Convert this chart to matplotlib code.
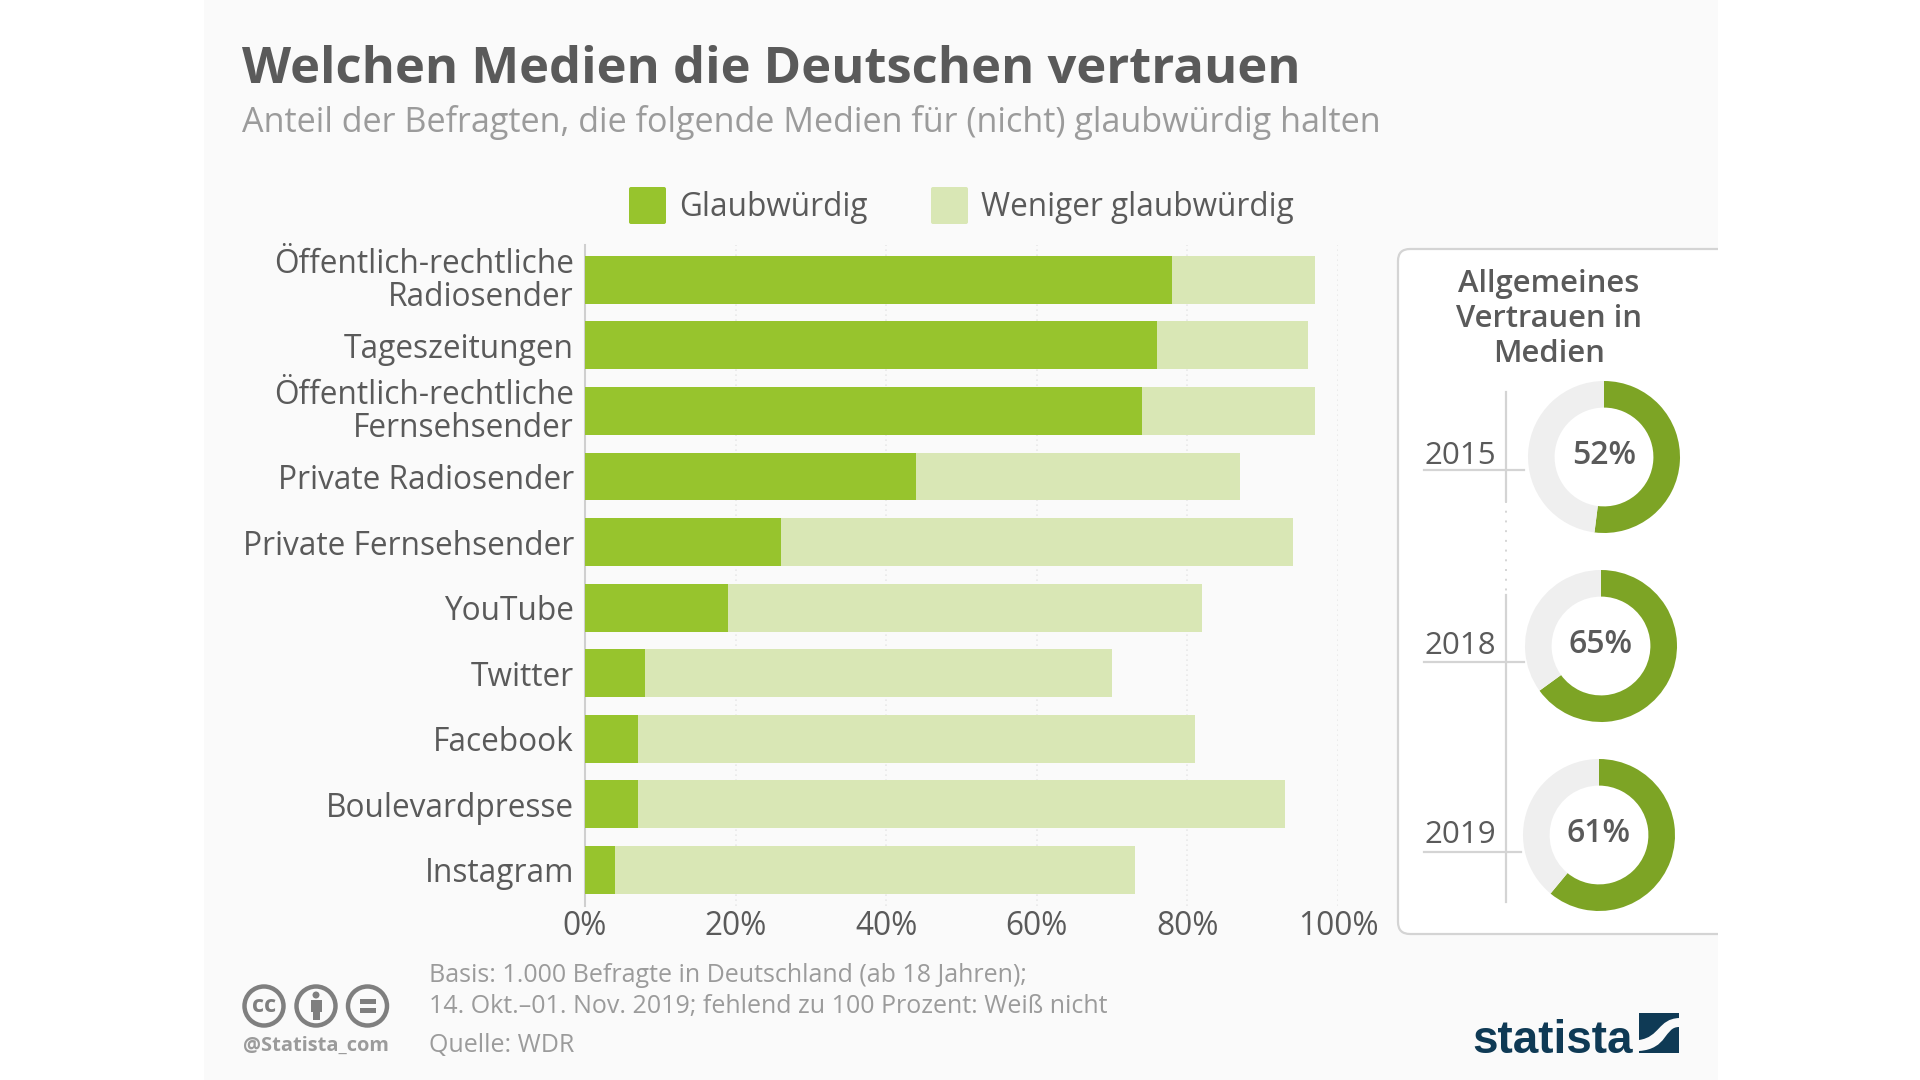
import numpy as np
import matplotlib
matplotlib.use('Agg')
import matplotlib.pyplot as plt
from matplotlib.patches import Rectangle, Circle, FancyBboxPatch, PathPatch
from matplotlib.path import Path
from matplotlib.transforms import ScaledTranslation

plt.rcParams['font.family'] = ['Open Sans', 'DejaVu Sans']

# data
medien = ['Öffentlich-rechtliche\nRadiosender', 'Tageszeitungen', 'Öffentlich-rechtliche\nFernsehsender',
          'Private Radiosender', 'Private Fernsehsender', 'YouTube', 'Twitter', 'Facebook',
          'Boulevardpresse', 'Instagram']
glaubwuerdig = [78, 76, 74, 44, 26, 19, 8, 7, 7, 4]
weniger = [19, 20, 23, 43, 68, 63, 62, 74, 86, 69]
xticks = [0, 20, 40, 60, 80, 100]
jahre = ['2015', '2018', '2019']
vertrauen = [52, 65, 61]

W, H = 1920, 1080
DARK = '#97c42d'
LIGHT = '#d9e7b5'
RING = '#7da425'
TXT = '#5a5a5a'
GREY = '#9b9b9b'
NAVY = '#0f3a55'

fig = plt.figure(figsize=(19.2, 10.8), dpi=100, facecolor='white')

# overlay in pixel coordinates for the page furniture
bg = fig.add_axes([0, 0, 1, 1], zorder=0)
bg.set_xlim(0, W)
bg.set_ylim(H, 0)
bg.axis('off')
bg.add_patch(Rectangle((204, 0), 1514, H, fc='#fafafa', ec='none'))

# panel right side, runs off the page edge
panel = FancyBboxPatch((1398, 249), 400, 685, boxstyle='round,pad=0,rounding_size=12',
                       fc='white', ec='#d4d4d4', lw=1.6)
bg.add_patch(panel)
bg.add_patch(Rectangle((1718, 240), 202, 700, fc='white', ec='none', zorder=3))

bg.text(242, 70, 'Welchen Medien die Deutschen vertrauen', fontsize=36.5, fontweight='bold',
        color=TXT, va='center', ha='left')
bg.text(242, 123, 'Anteil der Befragten, die folgende Medien für (nicht) glaubwürdig halten',
        fontsize=24.55, color=GREY, va='center', ha='left')

# legend
bg.add_patch(FancyBboxPatch((629, 187), 37, 37, boxstyle='round,pad=0,rounding_size=2', fc=DARK, ec='none'))
bg.text(679, 208, 'Glaubwürdig', fontsize=22.7, color=TXT, va='center', ha='left')
bg.add_patch(FancyBboxPatch((931, 187), 37, 37, boxstyle='round,pad=0,rounding_size=2', fc=LIGHT, ec='none'))
bg.text(981, 208, 'Weniger glaubwürdig', fontsize=22.7, color=TXT, va='center', ha='left')

# bars
ax = fig.add_axes([585 / W, 1 - 906 / H, (1338 - 585) / W, (906 - 245) / H], zorder=2)
ax.patch.set_alpha(0)
y = np.arange(len(medien))
ax.barh(y, glaubwuerdig, height=0.728, color=DARK, zorder=3)
ax.barh(y, weniger, left=glaubwuerdig, height=0.728, color=LIGHT, zorder=3)
ax.set_xlim(0, 100)
ax.set_ylim(len(medien) - 0.45, -0.53)
ax.set_yticks(y)
ax.set_yticklabels(medien, fontsize=22.75, color=TXT, linespacing=1.0)
ax.set_xticks(xticks)
ax.set_xticklabels(['%d%%' % t for t in xticks], fontsize=22.75, color=TXT)
ax.tick_params(axis='y', length=0, pad=8)
ax.tick_params(axis='x', length=0, pad=3)
ax.grid(axis='x', color='#e9e9e9', lw=1.2, ls=(0, (1, 2)), zorder=0)
for s in ['top', 'right', 'bottom']:
    ax.spines[s].set_visible(False)
ax.spines['left'].set_color('#cfcfcf')
ax.spines['left'].set_linewidth(1.5)

# the two line labels sit a little higher
for lab in ax.get_yticklabels():
    if '\n' in lab.get_text():
        lab.set_transform(lab.get_transform() + ScaledTranslation(0, 2.5 / 100, fig.dpi_scale_trans))

# side panel
bg.text(1549, 284, 'Allgemeines', fontsize=22.3, fontweight='semibold', color=TXT, ha='center', va='center')
bg.text(1549, 319, 'Vertrauen in', fontsize=22.3, fontweight='semibold', color=TXT, ha='center', va='center')
bg.text(1549, 354, 'Medien', fontsize=22.3, fontweight='semibold', color=TXT, ha='center', va='center')

bg.plot([1506, 1506], [392, 501], color='#d4d4d4', lw=1.6, zorder=4)
bg.plot([1506, 1506], [501, 595], color='#d4d4d4', lw=1.4, ls=(0, (1, 4)), zorder=4)
bg.plot([1506, 1506], [595, 902], color='#d4d4d4', lw=1.6, zorder=4)

centres = [(1604, 457), (1601, 646), (1599, 835)]
line_y = [470, 662, 852]
line_end = [1524, 1524, 1521]
jahr_y = [456.5, 646.5, 835]
R = 76
for jahr, wert, (cx, cy), ly, le, jy in zip(jahre, vertrauen, centres, line_y, line_end, jahr_y):
    bg.plot([1424, le], [ly, ly], color='#d4d4d4', lw=1.6, zorder=4)
    bg.text(1425, jy, jahr, fontsize=22.5, color=TXT, ha='left', va='center', zorder=5)
    d = fig.add_axes([(cx - R) / W, 1 - (cy + R) / H, 2 * R / W, 2 * R / H], zorder=3)
    d.pie([wert, 100 - wert], colors=[RING, '#efefef'], startangle=90, counterclock=False, radius=1,
          wedgeprops=dict(width=0.35, linewidth=0))
    d.set_xlim(-1, 1)
    d.set_ylim(-1, 1)
    d.text(0, 0.02, '%d%%' % wert, fontsize=23, fontweight='semibold', color=TXT, ha='center', va='center')

# footer
bg.text(429, 976, 'Basis: 1.000 Befragte in Deutschland (ab 18 Jahren);', fontsize=18, color=GREY, va='center')
bg.text(429, 1006, '14. Okt.–01. Nov. 2019; fehlend zu 100 Prozent: Weiß nicht', fontsize=18, color=GREY, va='center')
bg.text(429, 1046, 'Quelle: WDR', fontsize=18, color=GREY, va='center')

ICON = '#7f7f7f'
for cx in [264, 316, 367.5]:
    bg.add_patch(Circle((cx, 1006), 19.5, fc='none', ec=ICON, lw=3.2))
bg.text(264, 1006, 'cc', fontsize=17, fontweight='bold', color=ICON, ha='center', va='center')
bg.add_patch(Circle((316, 995), 3.5, fc=ICON, ec='none'))
bg.add_patch(Rectangle((310.5, 1000), 11, 12, fc=ICON, ec='none'))
bg.add_patch(Rectangle((312.5, 1012), 7, 8, fc=ICON, ec='none'))
bg.add_patch(Rectangle((359.5, 999), 16, 4.5, fc=ICON, ec='none'))
bg.add_patch(Rectangle((359.5, 1008), 16, 4.5, fc=ICON, ec='none'))
bg.text(316, 1046, '@Statista_com', fontsize=14.4, fontweight='bold', color=GREY, ha='center', va='center')

# logo
bg.text(1472, 1053, 'statista', fontsize=33, fontweight='bold', color=NAVY, ha='left', va='baseline',
        family=['Liberation Sans', 'DejaVu Sans'])
bg.add_patch(Rectangle((1639, 1013), 40, 40, fc=NAVY, ec='none'))
swoosh = Path([(1639, 1040), (1660, 1037), (1658, 1019), (1679, 1018),
               (1679, 1027), (1664, 1027), (1668, 1049), (1639, 1051), (1639, 1040)],
              [Path.MOVETO, Path.CURVE4, Path.CURVE4, Path.CURVE4,
               Path.LINETO, Path.CURVE4, Path.CURVE4, Path.CURVE4, Path.CLOSEPOLY])
bg.add_patch(PathPatch(swoosh, fc='#fafafa', ec='none'))

fig.savefig('out.png', dpi=100, facecolor='white')
